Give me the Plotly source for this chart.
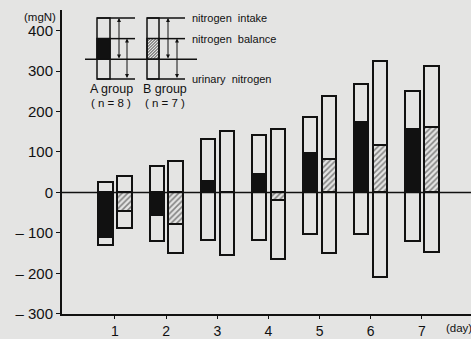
import plotly.graph_objects as go

days = [1, 2, 3, 4, 5, 6, 7]
a_intake = [25, 65, 132, 143, 187, 267, 251]
a_urinary = [130, 120, 118, 118, 103, 103, 119]
a_balance = [-110, -55, 28, 45, 98, 173, 158]
b_intake = [41, 77, 152, 158, 238, 326, 312]
b_urinary = [88, 150, 154, 165, 149, 209, 148]
b_balance = [-47, -78, 0, -19, 83, 117, 162]
y_tickvals = [400, 300, 200, 100, 0, -100, -200, -300]
y_ticktext = ["400", "300", "200", "100", "0", "– 100", "– 200", "– 300"]

BG = "#e4e4e3"
INK = "#111111"
FONT = "Liberation Sans, Arial, sans-serif"
W = 0.28
OFF_A, OFF_B = -0.325, 0.045

fig = go.Figure()
line = dict(color=INK, width=2)
fig.add_trace(go.Bar(x=days, y=[i + u for i, u in zip(a_intake, a_urinary)],
                     base=[-u for u in a_urinary], width=W, offset=OFF_A,
                     marker=dict(color=BG, line=line), showlegend=False))
fig.add_trace(go.Bar(x=days, y=[i + u for i, u in zip(b_intake, b_urinary)],
                     base=[-u for u in b_urinary], width=W, offset=OFF_B,
                     marker=dict(color=BG, line=line), showlegend=False))
fig.add_trace(go.Bar(x=days, y=a_balance, base=0, width=W, offset=OFF_A,
                     marker=dict(color=INK, line=line), showlegend=False))
fig.add_trace(go.Bar(x=days, y=b_balance, base=0, width=W, offset=OFF_B,
                     marker=dict(color=BG, line=line,
                                 pattern=dict(shape="/", fgcolor="#222", bgcolor=BG,
                                              size=4, solidity=0.4)),
                     showlegend=False))

# plot area in pixels: x 62..471, y 10..318
L, R, T, B = 62, 471, 10, 318
def px(x):
    return (x - L) / (R - L)
def py(y):
    return (B - y) / (B - T)

shapes = []
def seg(x0, y0, x1, y1, w=1.5):
    shapes.append(dict(type="line", xref="paper", yref="paper",
                       x0=px(x0), y0=py(y0), x1=px(x1), y1=py(y1),
                       line=dict(color=INK, width=w), layer="above"))
def rect(x0, y0, x1, y1, fill=None, w=1.5):
    shapes.append(dict(type="rect", xref="paper", yref="paper",
                       x0=px(x0), y0=py(y0), x1=px(x1), y1=py(y1),
                       line=dict(color=INK, width=w),
                       fillcolor=fill if fill else "rgba(0,0,0,0)", layer="above"))

# zero line
shapes.append(dict(type="line", xref="paper", yref="y", x0=0, x1=1, y0=0, y1=0,
                   line=dict(color=INK, width=1.5), layer="above"))

# legend schematic
rect(97, 39, 110, 60, fill=INK)
rect(97, 18, 110, 80)
hx0, hx1, hy0, hy1 = 147, 159, 39, 60
v0, v1 = -hy1, -hy0
c = hx0 - v1
while c < hx1 - v0:
    u0 = max(hx0, v0 + c)
    u1 = min(hx1, v1 + c)
    if u1 > u0:
        seg(u0, -(u0 - c), u1, -(u1 - c), w=0.8)
    c += 3
rect(147, 18, 159, 80)
rect(147, 39, 159, 60)
for bx0, bx1, lx in [(97, 110, 135), (147, 159, 185)]:
    seg(bx0, 18, lx, 18)
    seg(bx1, 39, lx, 39)
    seg(bx0, 80, lx, 80)
seg(85, 60, 197, 60)

ann = []
def arrow(x, y0, y1):
    ann.append(dict(xref="paper", yref="paper", x=px(x), y=py(y0),
                    ax=0, ay=(y1 - y0), axref="pixel", ayref="pixel",
                    text="", showarrow=True, arrowhead=2, startarrowhead=2,
                    arrowside="end+start", arrowsize=0.8, startarrowsize=0.8,
                    arrowwidth=1, arrowcolor=INK))
arrow(119, 18, 60)
arrow(127, 39, 80)
arrow(168, 18, 60)
arrow(177, 39, 80)

def text(x, y, s, size=11, anchor="left"):
    ann.append(dict(xref="paper", yref="paper", x=px(x), y=py(y), text=s,
                    showarrow=False, xanchor=anchor, yanchor="middle",
                    font=dict(family=FONT, size=size, color=INK)))
text(190, 18, "nitrogen  intake", 11)
text(190, 39, "nitrogen  balance", 11)
text(190, 80, "urinary  nitrogen", 11)
text(111, 90, "A group", 12.5, "center")
text(111, 104, "( n = 8 )", 11.5, "center")
text(165, 90, "B group", 12.5, "center")
text(165, 104, "( n = 7 )", 11.5, "center")
text(40, 17, "(mgN)", 11.5, "center")
text(444, 332, "(day)", 11.5, "left")

fig.update_layout(
    width=471, height=339, margin=dict(l=L, r=471 - R, t=T, b=339 - B),
    paper_bgcolor=BG, plot_bgcolor=BG, barmode="overlay", bargap=0,
    shapes=shapes, annotations=ann, showlegend=False,
    font=dict(family=FONT, size=13, color=INK),
)
fig.update_xaxes(range=[-0.036, 7.96], tickvals=days, ticktext=[str(d) for d in days],
                 showgrid=False, zeroline=False, showline=True, linecolor=INK,
                 linewidth=2, ticks="outside", ticklen=3, tickcolor=INK,
                 tickfont=dict(size=14))
fig.update_yaxes(range=[-300.5, 451], tickvals=y_tickvals, ticktext=y_ticktext,
                 showgrid=False, zeroline=False, showline=True, linecolor=INK,
                 linewidth=2, ticks="outside", ticklen=4, tickcolor=INK,
                 tickfont=dict(size=15))

fig.write_html("out.html", config={"displayModeBar": False},
               post_script="document.body.style.margin='0';document.body.style.background='" + BG + "';")
